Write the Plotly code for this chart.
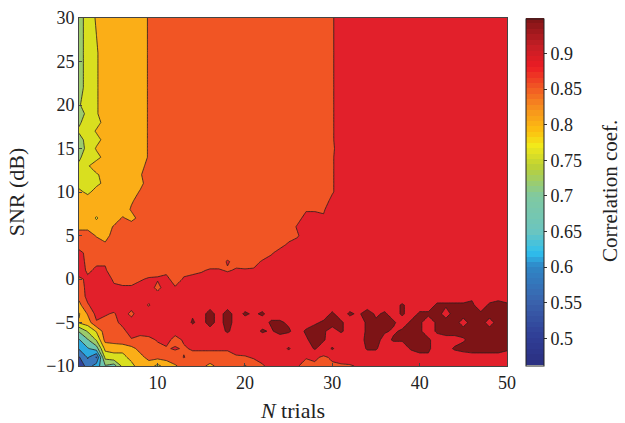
import numpy as np
import plotly.graph_objects as go

n_trials = list(range(1, 51))
snr_db = [-10,-9,-8,-7,-6,-5,-4,-3,-2,-1,0,1,2,3,4,5,6,7,8,9,10,11,12,13,14,15,16,17,18,19,20,22,26,30]

# correlation coefficient x100, one list per SNR
r_m10 = [48,55,60,67,65,74,76,80,80,76,80,82,84,85,84,81,84,85,85,82,85,87,89,90,90,88,85,87,85,87,87,87,88,90,90,90,90,90,90,90,90,90,90,90,90,90,90,90,90,90]
r_m9 = [52,58,52,74,76,76,79,81,84,84,84,85,87.7,86,86,86,86,86,87,87,88,89,90,90,90,89,88,88,87,88,89,90,90,90,90,90,90,90,90,91,92,90,90,90,90,91,91,91,91,91]
r_m8 = [58,62,65,79,79,79,81,84,85,86,87,88,87,88,88,88,88,88,89,90,90,90,90,90,93,90,90,93,90,93,90,90,90,93,93,90,90,90,93,94,93,91,91,93,94,94,94,94,94,93]
r_m7 = [62,67,73,84,85,86,87,87,86,88,89,86,88,90,90,90,90,90,90,90,90,90,90,90,90,90,92,94,93,90,90,90,90,94,94,91,93,93,93,94,93,91,91,91,92,94,94,94,94,94]
r_m6 = [68,73,78,85,86,86,90,88,90,90,90,89,90,90,90,91,91,93,91,91,91,93,92,94,93,91,93,94,93,91,93,91,91,93,94,93,92,93,94,93,91,93,94,94,94,94,94,94,94,94]
r_m5 = [78,80,87,86,86,89,90,90,90,90,90,90,90,93,91,94,91,94,91,91,91,91,93,93,92,91,91,92,93,94,93,91,91,93,93,93,93,91,93,93,91,93,94,94,91,94,94,91,94,94]
r_m4 = [77,83,89,88,87,90,86,91,91,91,91,91,91,92,91,94,91,94,91,93,92,93,91,91,91,91,91,91,91,93,91,93,92,94,92,93,91,93,91,93,93,94,91,94,94,94,93,94,94,94]
r_m3 = [81,87,90,90,90,90,90,90,87,91,91,91,91,91,91,91,91,91,91,91,91,91,91,91,91,91,91,91,91,91,91,91,91,91,91,91,91,93,91,91,91,93,93,93,93,93,91,93,93,93]
r_m2 = [84,89,90,90,90,90,90,90,90,90,90,90,90,90,90,90,90,90,90,90,90,90,90,90,90,90,90,90,90,90,90,90,90,90,90,90,90,90,90,90,90,91,91,91,91,92,91,91,92,91]
r_m1 = [85,89,90,90,88,88,88,89,90,86,90,88,90,90,90,90,90,90,90,90,90,90,90,90,90,90,90,90,90,90,90,90,90,90,90,90,90,90,90,90,90,90,90,90,90,90,90,90,90,90]
r_0 = [87,88,89,89,87,86,86,87,88,88,89,85,88,89,89,90,90,90,90,90,90,90,90,90,90,90,90,90,90,90,90,90,90,90,90,90,90,90,90,90,90,90,90,90,90,90,90,90,90,90]
r_1 = [89,87,88,88,85,85,85,85,85,86,86,85,86,86,87,88,88,87,88,88,88,90,90,90,90,90,90,90,90,90,90,90,90,90,90,90,90,90,90,90,90,90,90,90,90,90,90,90,90,90]
r_2 = [90,86,87,87,85,85,85,85,85,85,85,85,85,85,85,85,85,88,86,85,86,88,89,90,90,90,90,90,90,90,90,90,90,90,90,90,90,90,90,90,90,90,90,90,90,90,90,90,90,90]
r_3 = [89,86,85,85,85,85,85,85,85,85,85,85,85,85,85,85,85,85,85,85,85,85,87,89,90,90,90,90,90,90,90,90,90,90,90,90,90,90,90,90,90,90,90,90,90,90,90,90,90,90]
r_4 = [85,85,85,83,85,85,85,85,85,85,85,85,85,85,85,85,85,85,85,85,85,85,85,86,88,89,90,90,90,90,90,90,90,90,90,90,90,90,90,90,90,90,90,90,90,90,90,90,90,90]
r_5 = [85,85,82,81,84,85,85,85,85,85,85,85,85,85,85,85,85,85,85,85,85,85,85,85,86,87,90,90,90,90,90,90,90,90,90,90,90,90,90,90,90,90,90,90,90,90,90,90,90,90]
r_6 = [81,81,80,80,83,85,85,85,85,85,85,85,85,85,85,85,85,85,85,85,85,85,85,85,85,88,90,90,90,90,90,90,90,90,90,90,90,90,90,90,90,90,90,90,90,90,90,90,90,90]
r_7 = [80,80,77,80,80,83,81,84,85,85,85,85,85,85,85,85,85,85,85,85,85,85,85,85,85,86,89,89,88,90,90,90,90,90,90,90,90,90,90,90,90,90,90,90,90,90,90,90,90,90]
r_8 = [80,80,80,80,80,80,83,85,85,85,85,85,85,85,85,85,85,85,85,85,85,85,85,85,85,85,87,87,87,90,90,90,90,90,90,90,90,90,90,90,90,90,90,90,90,90,90,90,90,90]
r_9 = [80,81,80,80,80,80,82,84,85,85,85,85,85,85,85,85,85,85,85,85,85,85,85,85,85,85,85,85,85,89,90,90,90,90,90,90,90,90,90,90,90,90,90,90,90,90,90,90,90,90]
r_10 = [79,76,80,80,80,80,80,83,85,85,85,85,85,85,85,85,85,85,85,85,85,85,85,85,85,85,85,85,85,87,90,90,90,90,90,90,90,90,90,90,90,90,90,90,90,90,90,90,90,90]
r_11 = [75,75,76,79,80,80,80,81,85,85,85,85,85,85,85,85,85,85,85,85,85,85,85,85,85,85,85,85,85,87,90,90,90,90,90,90,90,90,90,90,90,90,90,90,90,90,90,90,90,90]
r_12 = [75,75,77,79,80,80,80,82,85,85,85,85,85,85,85,85,85,85,85,85,85,85,85,85,85,85,85,85,85,87,90,90,90,90,90,90,90,90,90,90,90,90,90,90,90,90,90,90,90,90]
r_13 = [73,77,80,80,80,80,80,81,84,85,85,85,85,85,85,85,85,85,85,85,85,85,85,85,85,85,85,85,85,87,90,90,90,90,90,90,90,90,90,90,90,90,90,90,90,90,90,90,90,90]
r_14 = [72,74,76,79,80,80,80,80,83,85,85,85,85,85,85,85,85,85,85,85,85,85,85,85,85,85,85,85,85,87,90,90,90,90,90,90,90,90,90,90,90,90,90,90,90,90,90,90,90,90]
r_15 = [70,74,78,80,80,80,80,80,83,85,85,85,85,85,85,85,85,85,85,85,85,85,85,85,85,85,85,85,85,87,89,90,90,90,90,90,90,90,90,90,90,90,90,90,90,90,90,90,90,90]
r_16 = [71,74,76,79,80,80,80,80,83,85,85,85,85,85,85,85,85,85,85,85,85,85,85,85,85,85,85,85,85,87,90,90,90,90,90,90,90,90,90,90,90,90,90,90,90,90,90,90,90,90]
r_17 = [73,75,78,80,80,80,80,80,83,85,85,85,85,85,85,85,85,85,85,85,85,85,85,85,85,85,85,85,85,87,90,90,90,90,90,90,90,90,90,90,90,90,90,90,90,90,90,90,90,90]
r_18 = [72,74,76,79,80,80,80,80,83,85,85,85,85,85,85,85,85,85,85,85,85,85,85,85,85,85,85,85,85,87,90,90,90,90,90,90,90,90,90,90,90,90,90,90,90,90,90,90,90,90]
r_19 = [70,74,77,80,80,80,80,80,83,85,85,85,85,85,85,85,85,85,85,85,85,85,85,85,85,85,85,85,85,87,90,90,90,90,90,90,90,90,90,90,90,90,90,90,90,90,90,90,90,90]
r_20 = [72,75,77,80,80,80,80,80,83,85,85,85,85,85,85,85,85,85,85,85,85,85,85,85,85,85,85,85,85,87,90,90,90,90,90,90,90,90,90,90,90,90,90,90,90,90,90,90,90,90]
r_22 = [70,75,77,80,80,80,80,80,83,85,85,85,85,85,85,85,85,85,85,85,85,85,85,85,85,85,85,85,85,87,90,90,90,90,90,90,90,90,90,90,90,90,90,90,90,90,90,90,90,90]
r_26 = [70,75,77,80,80,80,80,80,83,85,85,85,85,85,85,85,85,85,85,85,85,85,85,85,85,85,85,85,85,87,90,90,90,90,90,90,90,90,90,90,90,90,90,90,90,90,90,90,90,90]
r_30 = [70,75,78,80,80,80,80,80,83,85,85,85,85,85,85,85,85,85,85,85,85,85,85,85,85,85,85,85,85,87,90,90,90,90,90,90,90,90,90,90,90,90,90,90,90,90,90,90,90,90]

rows = [r_m10,r_m9,r_m8,r_m7,r_m6,r_m5,r_m4,r_m3,r_m2,r_m1,r_0,r_1,r_2,r_3,r_4,r_5,r_6,r_7,r_8,r_9,
        r_10,r_11,r_12,r_13,r_14,r_15,r_16,r_17,r_18,r_19,r_20,r_22,r_26,r_30]
corr = np.array(rows) / 100.0

band_colors = ["#2b2f80","#31459b","#3a78bc","#2ba9df","#6cc5b1","#9bcb6c","#d9df1f","#fbae17","#f15524","#e2202b","#7d1416"]
bar_anchor_vals = [0.462,0.5,0.55,0.6,0.62,0.65,0.7,0.74,0.77,0.79,0.82,0.85,0.88,0.91,0.949]
bar_anchor_cols = ["#2b2f80","#2f3d95","#3a62ac","#2f86c6","#2fc0ee","#6cc5bf","#80c99f","#bcd135","#f2e91a","#fdc010","#f7941d","#f15a24","#ec1c24","#c41e25","#7d1416"]
bar_ticks = [0.5,0.55,0.6,0.65,0.7,0.75,0.8,0.85,0.9]
bar_tick_text = ["0.5","0.55","0.6","0.65","0.7","0.75","0.8","0.85","0.9"]

def hex_rgb(c):
    return np.array([int(c[i:i+2],16) for i in (1,3,5)], dtype=float)

band_scale = [[i/(len(band_colors)-1), c] for i, c in enumerate(band_colors)]

vmin, vmax = bar_anchor_vals[0], bar_anchor_vals[-1]
steps = 64
anchor_rgb = np.array([hex_rgb(c) for c in bar_anchor_cols])
bar_scale = []
for i in range(steps):
    v = vmin + (vmax-vmin)*(i+0.5)/steps
    rgb = [np.interp(v, bar_anchor_vals, anchor_rgb[:,k]) for k in range(3)]
    col = "rgb(%d,%d,%d)" % tuple(int(round(q)) for q in rgb)
    bar_scale.append([i/steps, col])
    bar_scale.append([(i+1)/steps, col])

FONT = "Liberation Serif"
fig = go.Figure()
fig.add_trace(go.Contour(
    x=n_trials, y=snr_db, z=corr,
    autocontour=False,
    contours=dict(start=0.475, end=0.925, size=0.05, coloring="fill", showlines=True),
    colorscale=band_scale, zmin=0.45, zmax=0.95,
    line=dict(color="rgba(40,30,30,0.9)", width=0.9, smoothing=0),
    showscale=False, hoverinfo="skip",
))
fig.add_trace(go.Heatmap(
    x=[-200,-199], y=[-200,-199], z=[[vmin,vmax],[vmax,vmin]],
    zmin=vmin, zmax=vmax, colorscale=bar_scale, showscale=True, hoverinfo="skip",
    colorbar=dict(
        x=1.044, xanchor="left", xpad=0, y=0.5, yanchor="middle", ypad=0,
        lenmode="pixels", len=347, thicknessmode="pixels", thickness=18,
        outlinecolor="#222", outlinewidth=1,
        tickmode="array", tickvals=bar_ticks, ticktext=bar_tick_text,
        ticks="outside", ticklen=3, tickcolor="#333",
        tickfont=dict(family=FONT, size=18, color="#222"),
    ),
))
axis_common = dict(showgrid=False, zeroline=False, showline=True, linecolor="#444", linewidth=1,
                   mirror=True, ticks="inside", ticklen=3, tickcolor="#444", automargin=False,
                   tickfont=dict(family=FONT, size=18, color="#222"))
fig.update_layout(
    width=625, height=423,
    margin=dict(l=79, r=118, t=18, b=57),
    paper_bgcolor="white", plot_bgcolor="white",
    showlegend=False,
    xaxis=dict(range=[1,50], tickvals=[10,20,30,40,50],
               title=dict(text="<i>N</i> trials", font=dict(family=FONT, size=22, color="#222")),
               **axis_common),
    yaxis=dict(range=[-10,30], tickvals=[-10,-5,0,5,10,15,20,25,30],
               title=dict(text="SNR (dB)", font=dict(family=FONT, size=22, color="#222")),
               **axis_common),
    annotations=[dict(text="Correlation coef.", textangle=-90, showarrow=False,
                      xref="paper", yref="paper", x=(610-79)/428, y=(366-191)/348,
                      xanchor="center", yanchor="middle",
                      font=dict(family=FONT, size=21, color="#222"))],
)
fig.write_html("out.html", post_script="document.body.style.margin='0';",
               config={"displayModeBar": False})
